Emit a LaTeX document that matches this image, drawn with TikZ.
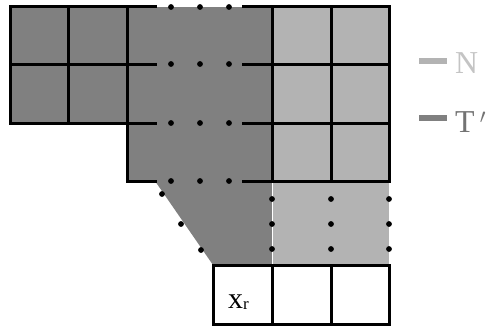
\documentclass[tikz,border=0pt]{standalone}
\usepackage{fontspec}
\setmainfont{Liberation Serif}
\usepackage{xcolor}
\usepackage{tikz}
\definecolor{grisosc}{HTML}{808080}
\definecolor{grisclr}{HTML}{B3B3B3}
\definecolor{textoclr}{HTML}{C4C4C4}
\definecolor{textoosc}{HTML}{737373}
\tikzset{
  oscuro/.style={fill=grisosc},
  claro/.style={fill=grisclr},
  borde/.style={line width=3bp,line cap=rect},
  pt/.style={circle,fill=black,inner sep=0pt,minimum size=5.8bp},
  rotulo/.style={anchor=base west,inner sep=0pt,font=\fontsize{32}{38}\selectfont}
}

\begin{document}
\begin{tikzpicture}[x=1bp,y=-1bp]
\clip (0,0) rectangle (486,326);
% zonas sombreadas
\fill[oscuro] (10,6) -- (272,6) -- (272,265) -- (213,265) -- (155,181)
  -- (127,181) -- (127,123) -- (10,123) -- cycle;
\fill[claro] (272,6) rectangle (389,265);
\draw[white,thin] (155,6) -- (243,6);
\draw[white,thin] (272,181) -- (272,265);
% bloque izquierdo
\draw[borde] (155,6) -- (10,6) -- (10,123) -- (127,123) -- (127,181) -- (155,181);
\draw[borde] (10,64) -- (155,64);
\draw[borde] (127,123) -- (155,123);
\draw[borde] (68,6) -- (68,123);
\draw[borde] (127,6) -- (127,123);
% bloque derecho
\foreach \y in {6,64,123,181}
  \draw[borde] (243,\y) -- (389,\y);
\foreach \x in {272,331,389}
  \draw[borde] (\x,6) -- (\x,181);
% fila inferior
\draw[borde] (213,265) rectangle (389,324);
\draw[borde] (272,265) -- (272,324);
\draw[borde] (331,265) -- (331,324);
\node[rotulo,font=\fontsize{30}{36}\selectfont] (xr) at (228,308)
  {x\raisebox{-1bp}{\fontsize{17}{17}\selectfont r}};
% puntos
\foreach \y in {7,64,123,181}
  \foreach \x in {171,200,229}
    \node[pt] at (\x,\y) {};
\foreach \x in {272,331,389}
  \foreach \y in {199,224,249}
    \node[pt] at (\x,\y) {};
\node[pt] at (162,194) {};
\node[pt] at (181,224) {};
\node[pt] at (201,250) {};
% leyenda
\draw[grisclr,line width=6bp] (419,61) -- (447,61);
\draw[grisosc,line width=6bp] (419,118) -- (447,118);
\node[rotulo,text=textoclr] (ln) at (455,73) {N};
\node[rotulo,text=textoosc] (lt) at (455,132) {T\,$^\prime$};
\end{tikzpicture}
\end{document}
